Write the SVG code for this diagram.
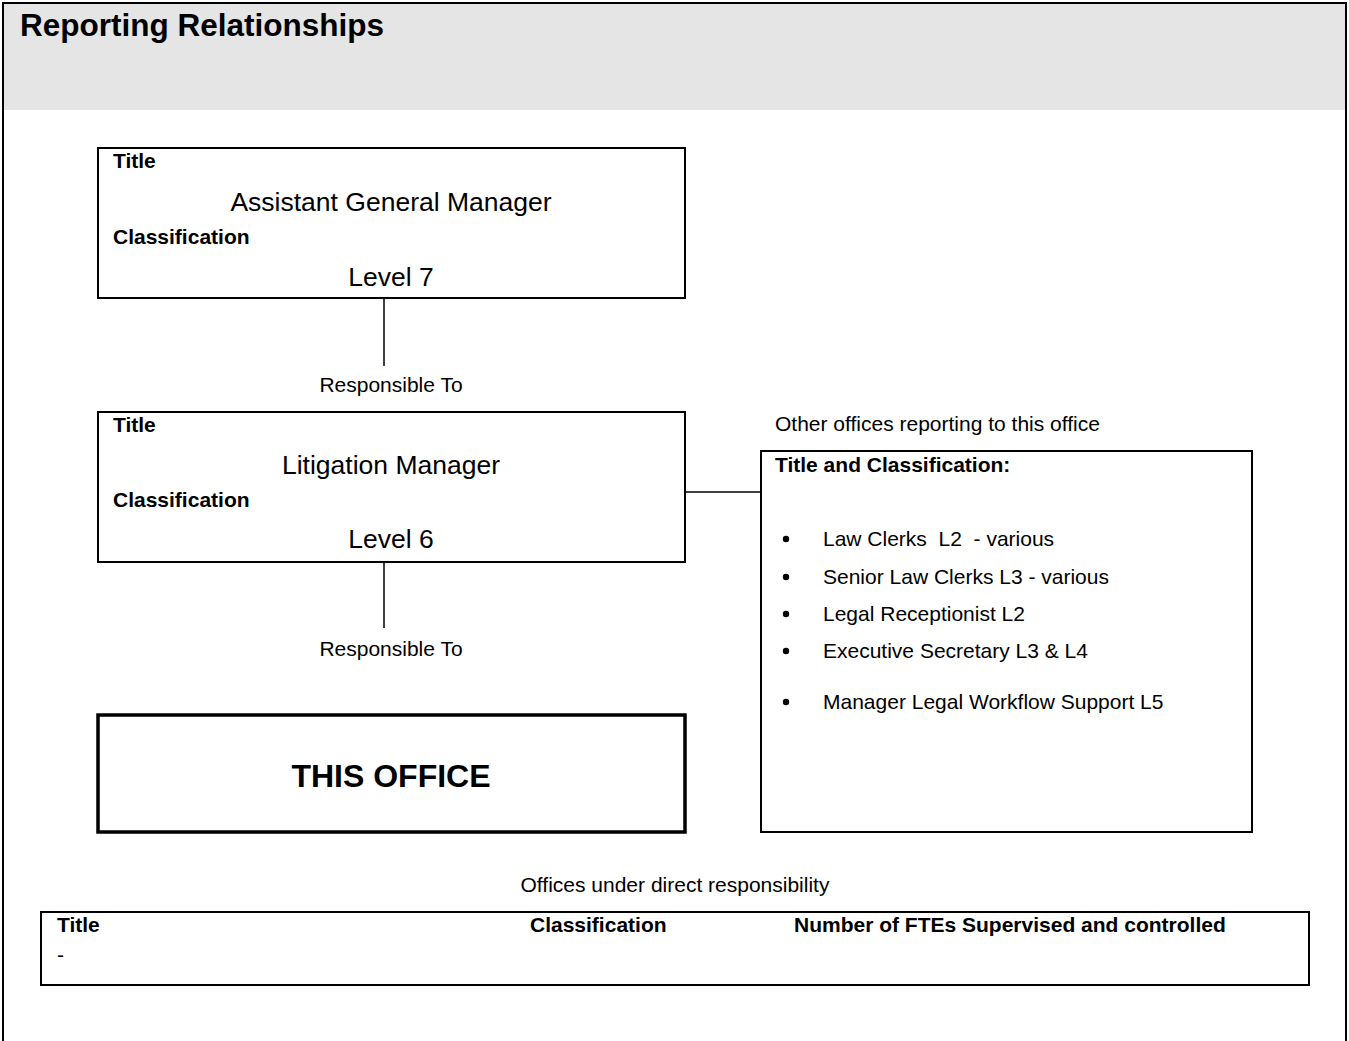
<svg xmlns="http://www.w3.org/2000/svg" width="1349" height="1041" viewBox="0 0 1349 1041">
<style>
text{font-family:"Liberation Sans",Arial,sans-serif;fill:#000;white-space:pre}
.b{font-weight:bold}
.s{font-size:21px}
.m{font-size:26.5px}
.c{text-anchor:middle}
.box{fill:#fff;stroke:#000;stroke-width:2}
.ln{stroke:#000;stroke-width:1.5;fill:none}
</style>
<rect x="0" y="0" width="1349" height="1041" fill="#fff"/>
<g id="frame">
<rect x="3" y="3" width="1343" height="107" fill="#e5e5e5"/>
<rect x="3" y="3" width="1343" height="1045" fill="none" stroke="#000" stroke-width="2"/>
<text x="20" y="36" class="b" font-size="31.5">Reporting Relationships</text>
</g>
<g id="connectors">
<line class="ln" x1="384" y1="298" x2="384" y2="366"/>
<line class="ln" x1="384" y1="562" x2="384" y2="628"/>
<line class="ln" x1="685" y1="492" x2="761" y2="492"/>
</g>
<g id="agm">
<rect class="box" x="98" y="148" width="587" height="150"/>
<text x="113" y="168" class="b s">Title</text>
<text x="391" y="211" class="m c">Assistant General Manager</text>
<text x="113" y="244" class="b s">Classification</text>
<text x="391" y="286" class="m c">Level 7</text>
</g>
<text x="391" y="392" class="s c">Responsible To</text>
<g id="litigation">
<rect class="box" x="98" y="412" width="587" height="150"/>
<text x="113" y="432" class="b s">Title</text>
<text x="391" y="474" class="m c">Litigation Manager</text>
<text x="113" y="507" class="b s">Classification</text>
<text x="391" y="548" class="m c">Level 6</text>
</g>
<text x="391" y="656" class="s c">Responsible To</text>
<g id="this-office">
<rect x="98" y="715" width="587" height="117" fill="#fff" stroke="#000" stroke-width="3.5"/>
<text x="391" y="787" class="b c" font-size="32">THIS OFFICE</text>
</g>
<text x="775" y="431" class="s">Other offices reporting to this office</text>
<g id="other-offices">
<rect class="box" x="761" y="451" width="491" height="381"/>
<text x="775" y="472" class="b s">Title and Classification:</text>
<circle cx="786" cy="539" r="3.2"/>
<text x="823" y="546" class="s" xml:space="preserve">Law Clerks  L2  - various</text>
<circle cx="786" cy="577" r="3.2"/>
<text x="823" y="584" class="s">Senior Law Clerks L3 - various</text>
<circle cx="786" cy="614" r="3.2"/>
<text x="823" y="621" class="s">Legal Receptionist L2</text>
<circle cx="786" cy="651" r="3.2"/>
<text x="823" y="658" class="s">Executive Secretary L3 &amp; L4</text>
<circle cx="786" cy="702" r="3.2"/>
<text x="823" y="709" class="s">Manager Legal Workflow Support L5</text>
</g>
<text x="675" y="892" class="s c">Offices under direct responsibility</text>
<g id="direct-offices">
<rect class="box" x="41" y="912" width="1268" height="73"/>
<text x="57" y="932" class="b s">Title</text>
<text x="530" y="932" class="b s">Classification</text>
<text x="794" y="932" class="b s" font-size="21.2">Number of FTEs Supervised and controlled</text>
<text x="57" y="962" class="s">-</text>
</g>
</svg>
